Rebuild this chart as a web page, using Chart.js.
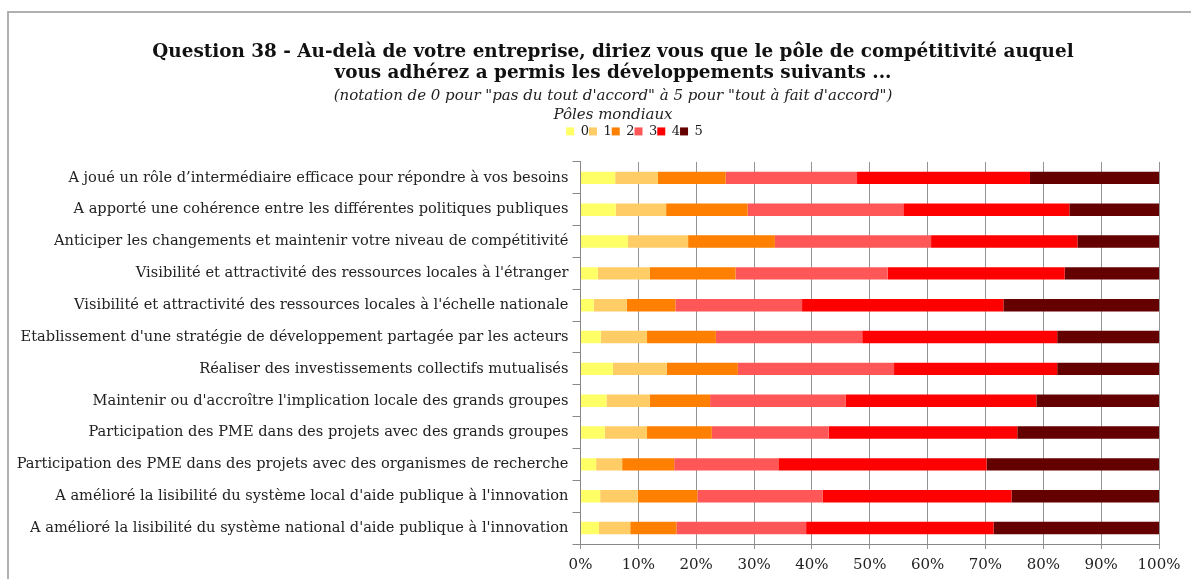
<!DOCTYPE html>
<html lang="fr">
<head>
<meta charset="utf-8">
<title>Question 38 - Pôles mondiaux</title>
<script src="https://cdn.jsdelivr.net/npm/chart.js@4.4.1/dist/chart.umd.min.js"></script>
<style>
  html, body { margin: 0; padding: 0; background: #fff; overflow: hidden; }
  #frame {
    position: absolute;
    left: 7px;
    top: 11px;
    width: 1300px;
    height: 700px;
    border: 2px solid #b0b0b0;
  }
  #chartBox { position: absolute; left: 0; top: 0; width: 1191px; height: 579px; }
</style>
</head>
<body>
<div id="frame"></div>
<div id="chartBox"><canvas id="q38Chart" width="1191" height="579"></canvas></div>

<script>
const categories = [
  "A joué un rôle d’intermédiaire efficace pour répondre à vos besoins",
  "A apporté une cohérence entre les différentes politiques publiques",
  "Anticiper les changements et maintenir votre niveau de compétitivité",
  "Visibilité et attractivité des ressources locales à l'étranger",
  "Visibilité et attractivité des ressources locales à l'échelle nationale",
  "Etablissement d'une stratégie de développement partagée par les acteurs",
  "Réaliser des investissements collectifs mutualisés",
  "Maintenir ou d'accroître l'implication locale des grands groupes",
  "Participation des PME dans des projets avec des grands groupes",
  "Participation des PME dans des projets avec des organismes de recherche",
  "A amélioré la lisibilité du système local d'aide publique à l'innovation",
  "A amélioré la lisibilité du système national d'aide publique à l'innovation",
];

// share of answers (%) per score, one value per row above
const note0 = [6.0, 6.1, 8.2, 3.0, 2.3, 3.5, 5.6, 4.5, 4.2, 2.7, 3.4, 3.2];
const note1 = [7.4, 8.7, 10.4, 9.0, 5.7, 8.0, 9.3, 7.5, 7.3, 4.5, 6.5, 5.4];
const note2 = [11.7, 14.1, 15.0, 14.8, 8.4, 11.9, 12.3, 10.4, 11.2, 9.0, 10.3, 8.0];
const note3 = [22.7, 26.9, 27.0, 26.3, 21.9, 25.3, 27.0, 23.4, 20.2, 18.0, 21.7, 22.4];
const note4 = [29.9, 28.7, 25.3, 30.6, 34.8, 33.7, 28.2, 33.0, 32.6, 36.0, 32.6, 32.4];
const note5 = [22.3, 15.5, 14.1, 16.3, 26.9, 17.6, 17.6, 21.2, 24.5, 29.8, 25.5, 28.6];

const seriesLabels = ["0", "1", "2", "3", "4", "5"];
const seriesColors = ["#ffff66", "#ffcc66", "#ff8000", "#ff5757", "#ff0000", "#640000"];
const xTicks = [0, 10, 20, 30, 40, 50, 60, 70, 80, 90, 100];

const titleLines = [
  "Question 38 - Au-delà de votre entreprise, diriez vous que le pôle de compétitivité auquel",
  "vous adhérez a permis les développements suivants ...",
];
const subtitleLines = [
  "(notation de 0 pour \"pas du tout d'accord\" à 5 pour \"tout à fait d'accord\")",
  "Pôles mondiaux",
];

const FONT = "'DejaVu Serif', 'Liberation Serif', serif";

document.addEventListener("DOMContentLoaded", () => {
  initQ38Chart();
});

function initQ38Chart() {
  const canvas = document.getElementById("q38Chart");
  if (!canvas) return;
  const ctx = canvas.getContext("2d");

  const values = [note0, note1, note2, note3, note4, note5];
  const datasets = values.map((data, i) => ({
    label: seriesLabels[i],
    data,
    backgroundColor: seriesColors[i],
    borderWidth: 0,
    barPercentage: 0.39,
    categoryPercentage: 1.0,
  }));

  // headings are centred on the whole frame rather than the canvas minus the
  // wide label column; legend a bit further right and with room below it
  const headerShift = {
    id: "headerShift",
    beforeInit(chart) {
      chart.boxes.forEach((box) => {
        const isLegend = box === chart.legend;
        const dx = isLegend ? 49 : 27.5;
        const draw = box.draw;
        box.draw = function () {
          this.ctx.save();
          this.ctx.translate(dx, 0);
          draw.apply(this, arguments);
          this.ctx.restore();
        };
        if (isLegend) {
          const fit = box.fit;
          box.fit = function () {
            fit.call(this);
            this.height += 14;
          };
        }
      });
    },
  };

  // eslint-disable-next-line no-undef
  new Chart(ctx, {
    type: "bar",
    data: { labels: categories, datasets },
    plugins: [headerShift],
    options: {
      indexAxis: "y",
      responsive: false,
      animation: false,
      layout: { padding: { left: 12, right: 32, top: 0, bottom: -2 } },
      plugins: {
        title: {
          display: true,
          text: titleLines,
          color: "#111",
          font: { family: FONT, size: 18.4, weight: "bold", lineHeight: 1.15 },
          padding: { top: 41.5, bottom: 0 },
        },
        subtitle: {
          display: true,
          text: subtitleLines,
          color: "#222",
          font: { family: FONT, size: 15, style: "italic", lineHeight: 1.27 },
          padding: { top: 3, bottom: 0 },
        },
        legend: {
          display: true,
          position: "top",
          labels: {
            boxWidth: 8,
            boxHeight: 8,
            padding: 0,
            color: "#222",
            font: { family: FONT, size: 13 },
          },
        },
        tooltip: { enabled: false },
      },
      scales: {
        x: {
          stacked: true,
          min: 0,
          max: 100,
          afterBuildTicks(scale) {
            scale.ticks = xTicks.map((v) => ({ value: v }));
          },
          grid: { color: "#949494", lineWidth: 1, tickLength: 5 },
          border: { display: true, color: "#888" },
          ticks: {
            color: "#222",
            padding: 8.5,
            font: { family: FONT, size: 15, lineHeight: 1 },
            callback: (v) => v + "%",
          },
        },
        y: {
          stacked: true,
          afterFit(scale) {
            scale.width = 568.5;
          },
          grid: { drawOnChartArea: false, drawTicks: true, tickLength: 8, color: "#888" },
          border: { display: true, color: "#888" },
          ticks: {
            color: "#222",
            padding: 4,
            font: { family: FONT, size: 14.6 },
          },
        },
      },
    },
  });
}
</script>
</body>
</html>
